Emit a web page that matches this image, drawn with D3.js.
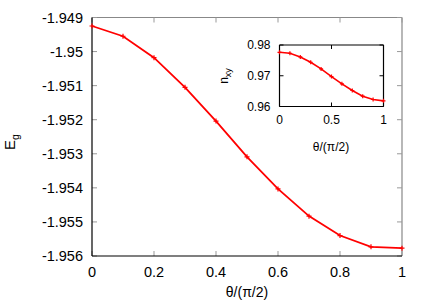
<!DOCTYPE html>
<html>
<head>
<meta charset="utf-8">
<script src="https://cdn.jsdelivr.net/npm/d3@7"></script>
<style>
  body { margin: 0; background: #fff; }
  svg { font-family: "Liberation Sans", Arial, sans-serif; }
</style>
</head>
<body>
<div class="vis"></div>
<script>
// main curve: ground state energy vs angle
const theta = [0, 0.1, 0.2, 0.3, 0.4, 0.5, 0.6, 0.7, 0.8, 0.9, 1.0]
const energy = [-1.94925, -1.94955, -1.95018, -1.95105, -1.95204, -1.95309, -1.95403, -1.95483, -1.95540, -1.95573, -1.95577]
// inset: n_xy vs angle
const nxy = [0.97763, 0.97731, 0.97611, 0.97439, 0.97222, 0.96973, 0.96736, 0.9652, 0.96337, 0.96227, 0.96184]

const mainXTicks = [0, 0.2, 0.4, 0.6, 0.8, 1]
const mainYTicks = [-1.949, -1.95, -1.951, -1.952, -1.953, -1.954, -1.955, -1.956]
const insetXTicks = [0, 0.5, 1]
const insetYTicks = [0.96, 0.97, 0.98]

const W = 436, H = 305
const svg = d3.select(".vis").append("svg").attr("width", W).attr("height", H)

const drawPanel = (g, x, y, xTicks, yTicks, xs, ys, opts) => {
    const [x0, x1] = x.range()
    const [y0, y1] = y.range()  // y0 bottom, y1 top
    const tl = opts.tick

    // frame
    g.append("line").attr("x1", x0).attr("x2", x1).attr("y1", y1).attr("y2", y1).attr("stroke", opts.topColor).attr("stroke-width", 1.2)
    g.append("line").attr("x1", x1).attr("x2", x1).attr("y1", y0).attr("y2", y1).attr("stroke", opts.topColor).attr("stroke-width", 1.2)

    // ticks (inward, mirrored)
    xTicks.forEach(t => {
        g.append("line").attr("x1", x(t)).attr("x2", x(t)).attr("y1", y0).attr("y2", y0 - tl).attr("stroke", opts.tickColor)
        g.append("line").attr("x1", x(t)).attr("x2", x(t)).attr("y1", y1).attr("y2", y1 + tl).attr("stroke", opts.tickColor)
        g.append("text").attr("x", x(t)).attr("y", y0 + opts.xLabelOff).attr("text-anchor", "middle")
            .style("font-size", opts.font + "px").text(t)
    })
    yTicks.forEach(t => {
        g.append("line").attr("x1", x0).attr("x2", x0 + tl).attr("y1", y(t)).attr("y2", y(t)).attr("stroke", opts.tickColor)
        g.append("line").attr("x1", x1).attr("x2", x1 - tl).attr("y1", y(t)).attr("y2", y(t)).attr("stroke", opts.tickColor)
        g.append("text").attr("x", x0 - opts.yLabelOff).attr("y", y(t)).attr("dy", "0.36em").attr("text-anchor", "end")
            .style("font-size", opts.font + "px").text(t)
    })

    g.append("line").attr("x1", x0).attr("x2", x1).attr("y1", y0).attr("y2", y0).attr("stroke", "#000").attr("stroke-width", 1.2)
    g.append("line").attr("x1", x0).attr("x2", x0).attr("y1", y0).attr("y2", y1).attr("stroke", "#000").attr("stroke-width", 1.2)

    // curve
    const line = d3.line().x((d, i) => x(xs[i])).y(d => y(d))
    g.append("path").datum(ys).attr("d", line).attr("fill", "none").attr("stroke", "#ff0000").attr("stroke-width", opts.lw)

    const m = opts.marker
    ys.forEach((d, i) => {
        g.append("path")
            .attr("d", `M${x(xs[i]) - m},${y(d)}h${2 * m}M${x(xs[i])},${y(d) - m}v${2 * m}`)
            .attr("stroke", "#ff0000").attr("stroke-width", 1.2)
    })
}

// main plot
const mx = d3.scaleLinear().domain([0, 1]).range([92, 402])
const my = d3.scaleLinear().domain([-1.956, -1.949]).range([256, 17.5])
drawPanel(svg.append("g"), mx, my, mainXTicks, mainYTicks, theta, energy,
    { tick: 5, topColor: "#888", tickColor: "#999", xLabelOff: 21, yLabelOff: 9, font: 14.5, lw: 1.8, marker: 2.5 })

svg.append("text").attr("x", 247).attr("y", 297).attr("text-anchor", "middle")
    .style("font-size", "14px").text("θ/(π/2)")
svg.append("text").attr("transform", "translate(15, 142) rotate(-90)").attr("text-anchor", "middle")
    .style("font-size", "15px")
    .call(t => { t.append("tspan").text("E"); t.append("tspan").attr("dy", 4).style("font-size", "10.5px").text("g") })

// inset
const ix = d3.scaleLinear().domain([0, 1]).range([279.5, 383.5])
const iy = d3.scaleLinear().domain([0.96, 0.98]).range([106.5, 45])
drawPanel(svg.append("g"), ix, iy, insetXTicks, insetYTicks, theta, nxy,
    { tick: 4, topColor: "#000", tickColor: "#000", xLabelOff: 17, yLabelOff: 9, font: 12, lw: 1.6, marker: 2 })

svg.append("text").attr("x", 331).attr("y", 151).attr("text-anchor", "middle")
    .style("font-size", "12px").text("θ/(π/2)")
svg.append("text").attr("transform", "translate(228, 76) rotate(-90)").attr("text-anchor", "middle")
    .style("font-size", "12px")
    .call(t => { t.append("tspan").text("n"); t.append("tspan").attr("dy", 3).style("font-size", "9px").text("xy") })
</script>
</body>
</html>
